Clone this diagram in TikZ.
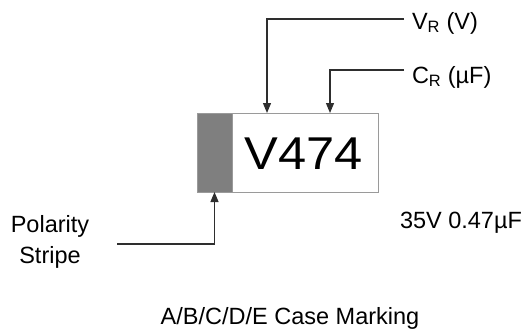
\documentclass[tikz,border=0pt]{standalone}
\usepackage{fontspec}
\setmainfont{Liberation Sans}
\usetikzlibrary{positioning}
\usetikzlibrary{arrows.meta}
\definecolor{CAPstripe}{HTML}{7F7F7F}
\definecolor{CAPedge}{HTML}{9A9A9A}
\definecolor{CAPline}{HTML}{2E2E2E}

\begin{document}
\begin{tikzpicture}[x=1pt,y=-1pt,
  every node/.style={inner sep=0pt,outer sep=0pt},
  lbl/.style={font=\fontsize{23.5}{28}\selectfont},
  lead/.style={draw=CAPline,line width=1.2pt,-{Triangle[length=10pt,width=8pt]}}]

\useasboundingbox (0,0) rectangle (530,335);

% Body
\node[draw=CAPedge,line width=1pt,fill=white,minimum width=181pt,minimum height=79pt] (body) at (287.5,152.5) {};
\node[draw=CAPedge,line width=1pt,fill=CAPstripe,minimum width=35pt,minimum height=79pt] (stripe) at (214.5,152.5) {};
\node[font=\fontsize{46}{50}\selectfont,xscale=1.1] (code) at (304,154) {V474};

% Labels
\node[lbl,anchor=base west] (vr) at (412,29) {V\textsubscript{R} (V)};
\node[lbl,anchor=base west] (cr) at (412,83) {C\textsubscript{R} (µF)};
\node[lbl,anchor=base west] (val) at (400,228) {35V 0.47µF};
\node[lbl,align=center,anchor=base] (pol) at (50,263) {Polarity\\[3pt]Stripe};
\node[lbl,anchor=base] (case) at (290,324) {A/B/C/D/E Case Marking};

% Leaders
\coordinate (vrtip) at (404,19);
\coordinate (vrbend) at (267,19);
\coordinate (crtip) at (404,70);
\coordinate (crbend) at (330,70);
\coordinate (poltail) at (117,244);

\draw[lead] (vrtip) -- (vrbend) -- (vrbend |- body.north);
\draw[lead] (crtip) -- (crbend) -- (crbend |- body.north);
\draw[lead] (poltail) -| (stripe.south);

\end{tikzpicture}
\end{document}
